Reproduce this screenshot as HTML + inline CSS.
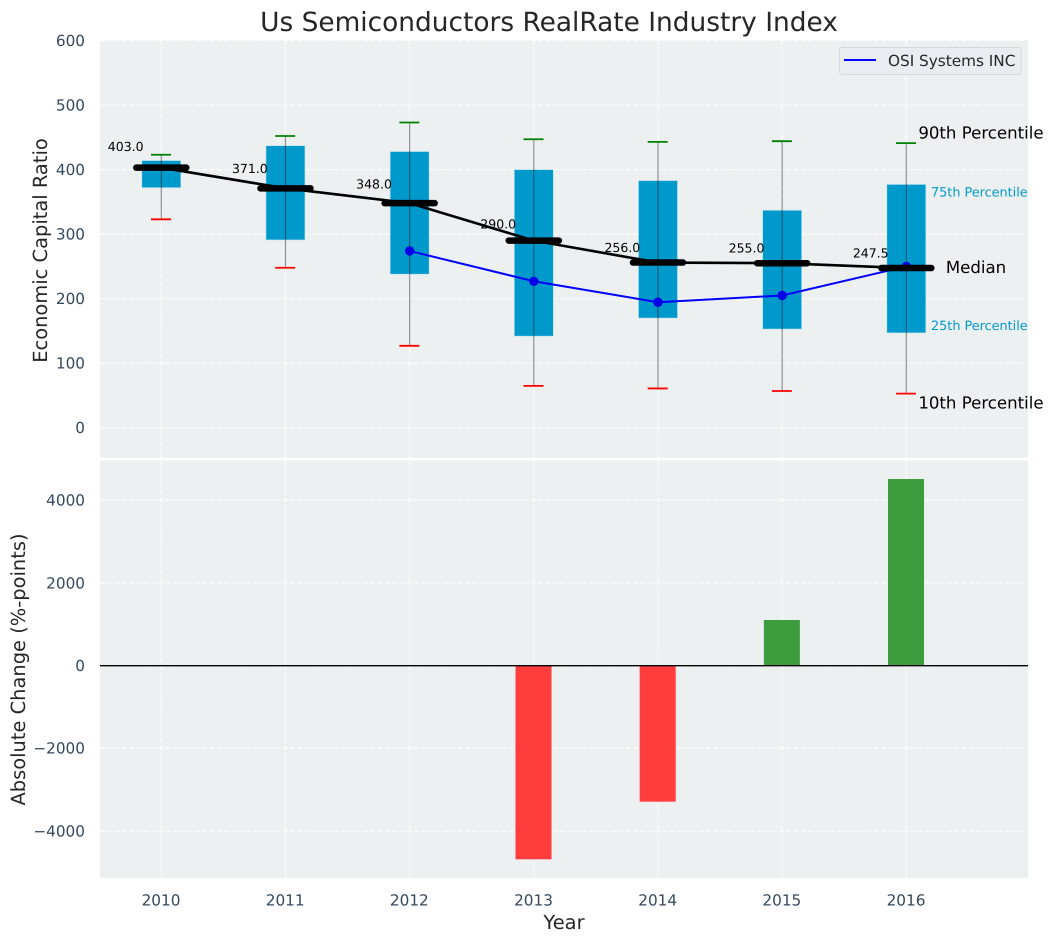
<!DOCTYPE html>
<html lang="en">
<head>
<meta charset="utf-8">
<title>Us Semiconductors RealRate Industry Index</title>
<style>
html,body{margin:0;padding:0;background:#fff;width:1053px;height:942px;overflow:hidden}
svg{display:block;font-family:"DejaVu Sans","Liberation Sans",sans-serif;text-rendering:geometricPrecision}
</style>
</head>
<body>
<svg id="chart" xmlns="http://www.w3.org/2000/svg" width="1053" height="942" viewBox="0 0 1053 942">
  <text x="549" y="31" font-size="26.4" fill="#262626" text-anchor="middle">Us Semiconductors RealRate Industry Index</text>
  <rect x="100" y="40" width="928" height="418" fill="#ecf0f1"/>
  <rect x="100" y="460.5" width="928" height="417.5" fill="#ecf0f1"/>
  <g id="grid"></g>
  <g id="boxes"></g>
  <g id="medians"></g>
  <g id="company"></g>
  <g id="bars"></g>
  <g id="labels"></g>
  <g id="annotations"></g>
  <g>
    <rect x="839.5" y="47.5" width="181.5" height="27" rx="2.5" fill="#e9ecf1" stroke="#d5d8dc" stroke-width="1"/>
    <line x1="844" y1="60" x2="876" y2="60" stroke="#0000ff" stroke-width="2"/>
    <text x="888" y="66" font-size="15.28" fill="#262626">OSI Systems INC</text>
  </g>
  <text transform="translate(47 250.5) rotate(-90)" font-size="19.44" fill="#262626" text-anchor="middle">Economic Capital Ratio</text>
  <text transform="translate(25 669.5) rotate(-90)" font-size="19.44" fill="#262626" text-anchor="middle">Absolute Change (%-points)</text>
  <text x="564" y="929" font-size="19.44" fill="#262626" text-anchor="middle">Year</text>
</svg>
<script>
const years = [2010, 2011, 2012, 2013, 2014, 2015, 2016];
const p90 = [423, 452, 473, 447, 443, 444, 441];
const p75 = [414, 437, 428, 400, 383, 337, 377];
const medianValues = [403, 371, 348, 290, 256, 255, 247.5];
const p25 = [372, 291, 238, 142, 170, 153, 147];
const p10 = [323, 248, 127, 65, 61, 57, 53];
const companyValues = [null, null, 274, 227, 194.5, 205, 250];
const changeValues = [null, null, null, -4682, -3289, 1105, 4515];
const upperTicks = [0, 100, 200, 300, 400, 500, 600];
const lowerTicks = [-4000, -2000, 0, 2000, 4000];

const NS = 'http://www.w3.org/2000/svg';
function xAt(year) { return 161.3 + (year - 2010) * 124.17; }
function yUp(v) { return 427.8 - v * 0.6455; }
function yLow(v) { return 665.7 - v * 0.04135; }

function make(parent, tag, attrs, text) {
  const el = document.createElementNS(NS, tag);
  for (const k in attrs) el.setAttribute(k, attrs[k]);
  if (text !== undefined) el.textContent = text;
  document.getElementById(parent).appendChild(el);
  return el;
}
let el;

/* gridlines */
const gridStyle = { stroke: '#ffffff', 'stroke-width': 1.2, 'stroke-dasharray': '5.1 2.2', opacity: 0.9 };
upperTicks.forEach(function (t) {
  el = make('grid', 'line', Object.assign({ x1: 100, x2: 1028, y1: yUp(t), y2: yUp(t) }, gridStyle));
  
  
  el = make('labels', 'text', { x: 85, y: yUp(t) + 5.3, 'font-size': 15.28, fill: '#34495e', 'text-anchor': 'end' }, String(t));
  
  
});
lowerTicks.forEach(function (t) {
  el = make('grid', 'line', Object.assign({ x1: 100, x2: 1028, y1: yLow(t), y2: yLow(t) }, gridStyle));
  
  
  el = make('labels', 'text', { x: 85, y: yLow(t) + 5.3, 'font-size': 15.28, fill: '#34495e', 'text-anchor': 'end' }, String(t).replace('-', '\u2212'));
  
  
});
years.forEach(function (yr) {
  const x = xAt(yr);
  el = make('grid', 'line', Object.assign({ x1: x, x2: x, y1: 40, y2: 458 }, gridStyle));
  
  
  el = make('grid', 'line', Object.assign({ x1: x, x2: x, y1: 460.5, y2: 878 }, gridStyle));
  
  
  el = make('labels', 'text', { x: x - 0.3, y: 905.5, 'font-size': 15.28, fill: '#34495e', 'text-anchor': 'middle' }, String(yr));
  
  
});

/* percentile boxes, whiskers and caps */
years.forEach(function (yr, i) {
  const x = xAt(yr);
  el = make('boxes', 'rect', { x: x - 19.5, y: yUp(p75[i]), width: 39, height: yUp(p25[i]) - yUp(p75[i]), fill: '#0099cc', stroke: '#bfe3ee', 'stroke-width': 0.6 });
  
  
  el = make('boxes', 'line', { x1: x, x2: x, y1: yUp(p90[i]), y2: yUp(p10[i]), stroke: '#000', 'stroke-opacity': 0.42, 'stroke-width': 1.2 });
  
  
  el = make('boxes', 'line', { x1: x - 10.3, x2: x + 9.7, y1: yUp(p90[i]), y2: yUp(p90[i]), stroke: '#008000', 'stroke-width': 1.8 });
  
  
  el = make('boxes', 'line', { x1: x - 10.3, x2: x + 9.7, y1: yUp(p10[i]), y2: yUp(p10[i]), stroke: '#ff0000', 'stroke-width': 1.8 });
  
  
});

/* median line and thick markers */
el = make('medians', 'polyline', {
  points: years.map(function (yr, i) { return xAt(yr) + ',' + yUp(medianValues[i]); }).join(' '),
  fill: 'none', stroke: '#000', 'stroke-width': 2.6
});


years.forEach(function (yr, i) {
  const x = xAt(yr), y = yUp(medianValues[i]);
  el = make('medians', 'line', { x1: x - 25, x2: x + 25, y1: y, y2: y, stroke: '#000', 'stroke-width': 6.5, 'stroke-linecap': 'round' });
  
  
  el = make('medians', 'text', { x: x - 53.5, y: yUp(medianValues[i] * 1.065), 'font-size': 12.5, fill: '#000' }, medianValues[i].toFixed(1));
  
  
});

/* company series: drawn under the median markers at the last point */
const companyPoints = years.map(function (yr, i) {
  return companyValues[i] === null ? null : [xAt(yr), yUp(companyValues[i])];
}).filter(Boolean);
el = make('company', 'polyline', {
  points: companyPoints.map(function (p) { return p.join(','); }).join(' '),
  fill: 'none', stroke: '#0000ff', 'stroke-width': 2
});


companyPoints.forEach(function (p) {
  el = make('company', 'circle', { cx: p[0], cy: p[1], r: 4.7, fill: '#0000e6' });
  
  
});
const companyLayer = document.getElementById('company');
companyLayer.parentNode.insertBefore(companyLayer, document.getElementById('medians'));

/* change bars */
years.forEach(function (yr, i) {
  const v = changeValues[i];
  if (v === null) return;
  const y0 = yLow(0), y1 = yLow(v);
  el = make('bars', 'rect', { x: xAt(yr) - 18.3, y: Math.min(y0, y1), width: 36, height: Math.abs(y1 - y0), fill: v < 0 ? '#ff3d3d' : '#3d9c3d' });
  
  
});
el = make('bars', 'line', { x1: 100, x2: 1028, y1: yLow(0), y2: yLow(0), stroke: '#000', 'stroke-width': 1.3 });



/* percentile annotations, anchored on the last year */
const last = years.length - 1;
const lastX = xAt(years[last]);
el = make('annotations', 'text', { x: lastX + 12, y: yUp(p90[last]) - 4.5, 'font-size': 16.6, fill: '#000' }, '90th Percentile');


el = make('annotations', 'text', { x: lastX + 24.7, y: yUp(p75[last]) + 12, 'font-size': 12.8, fill: '#0099cc' }, '75th Percentile');


el = make('annotations', 'text', { x: lastX + 39.5, y: yUp(medianValues[last]) + 5, 'font-size': 16.6, fill: '#000' }, 'Median');


el = make('annotations', 'text', { x: lastX + 24.7, y: yUp(p25[last]) - 3, 'font-size': 12.8, fill: '#0099cc' }, '25th Percentile');


el = make('annotations', 'text', { x: lastX + 12, y: yUp(p10[last]) + 15, 'font-size': 16.6, fill: '#000' }, '10th Percentile');


</script>
</body>
</html>
